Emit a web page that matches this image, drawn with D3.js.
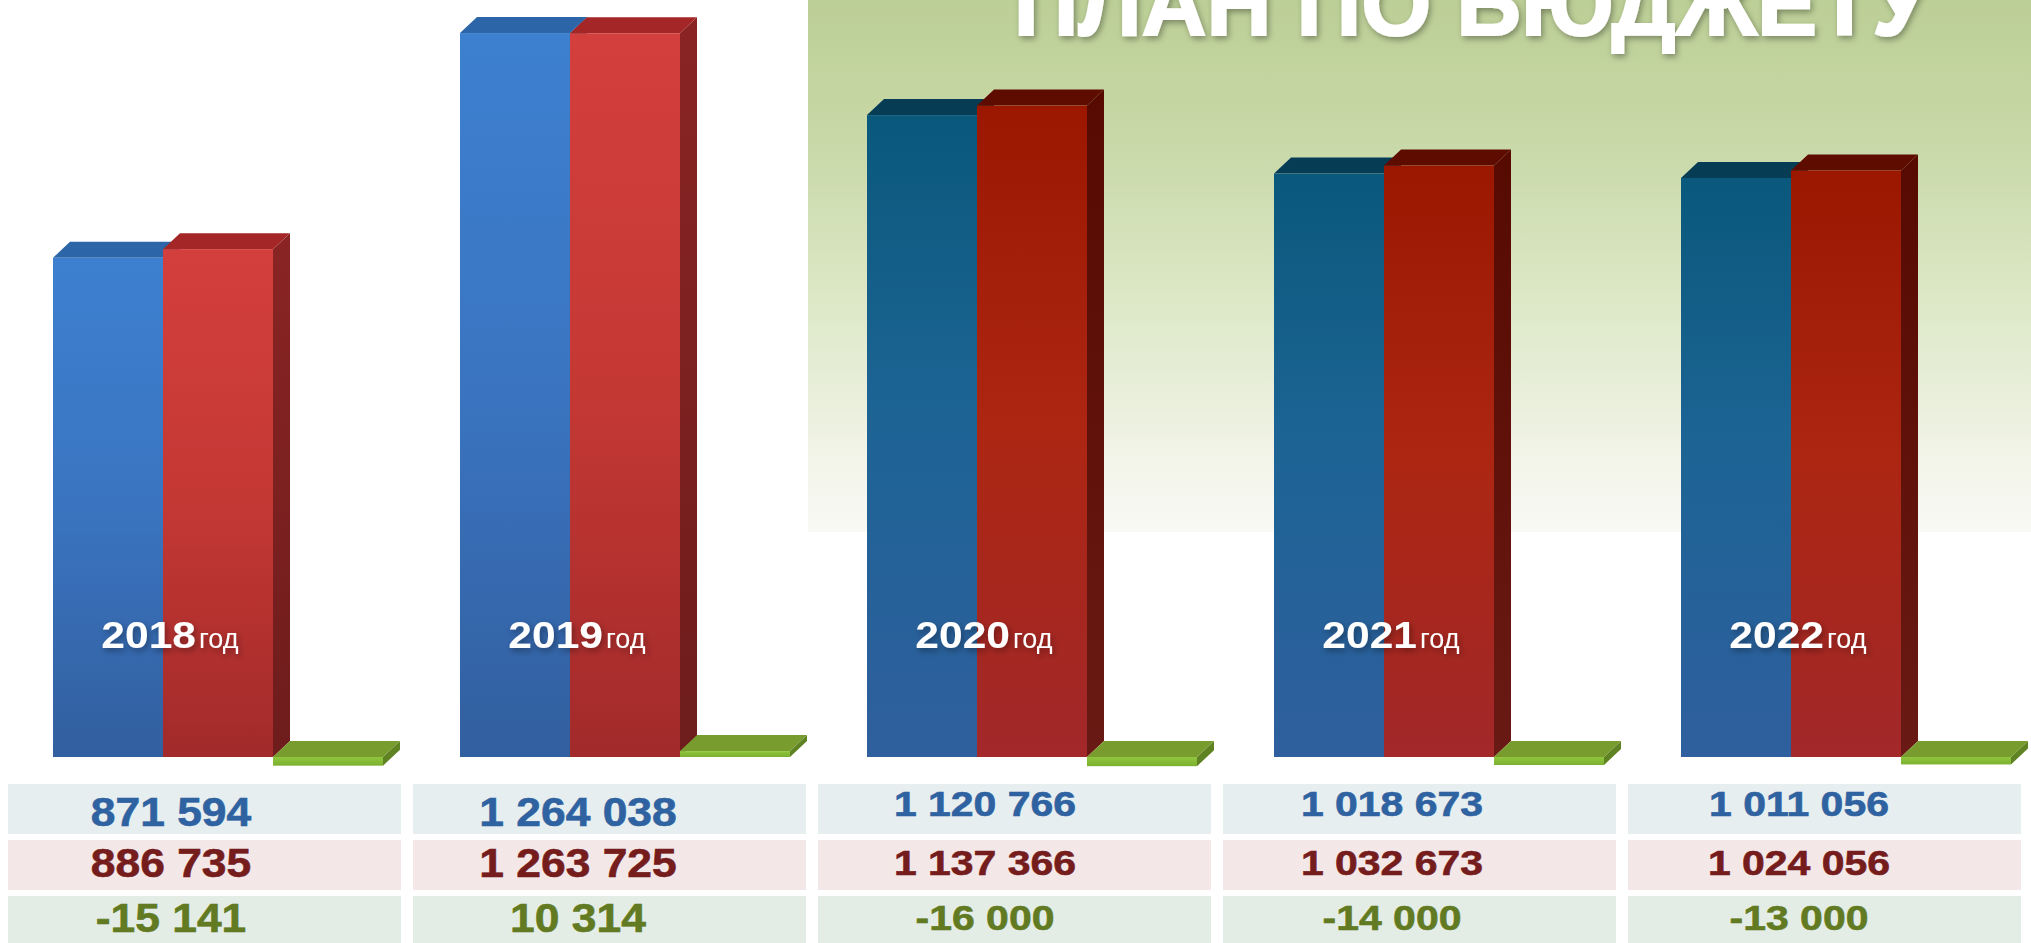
<!DOCTYPE html>
<html>
<head>
<meta charset="utf-8">
<script src="https://cdn.jsdelivr.net/npm/d3@7/dist/d3.min.js"></script>
<style>
    body { margin: 0; background: #ffffff; }
    svg { display: block; }
</style>
</head>
<body>
<div id="budget"></div>
<script>
// --------------------------------------------------
// data

var years = ["2018", "2019", "2020", "2021", "2022"];
var planValues = [871594, 1264038, 1120766, 1018673, 1011056];
var factValues = [886735, 1263725, 1137366, 1032673, 1024056];
var diffValues = [-15141, 10314, -16000, -14000, -13000];
var seriesKeys = ["plan", "fact", "diff"];
var titleText = "ПЛАН ПО БЮДЖЕТУ";
var yearSuffix = "год";

var width = 2031;
var height = 943;
var depthX = 17, depthY = 16;

var rows = years.map(function(yr, i) {
    return { year: yr, idx: i, plan: planValues[i], fact: factValues[i], diff: diffValues[i] };
});

// number format "1 264 038", plain hyphen for minus
function fmt(v) {
    var s = d3.format(",")(v);
    return s.replace(/,/g, " ").replace("\u2212", "-");
}

var svg = d3.select("#budget")
    .append("svg")
    .attr("width", width)
    .attr("height", height);

var defs = svg.append("defs");

function vGrad(id, stops) {
    var g = defs.append("linearGradient")
        .attr("id", id)
        .attr("x1", 0).attr("y1", 0).attr("x2", 0).attr("y2", 1);
    stops.forEach(function(s) {
        g.append("stop").attr("offset", s[0]).attr("stop-color", s[1]);
    });
}

// green panel behind the title
vGrad("panelGrad", [[0, "#bccf96"], [0.28, "#c9d9a9"], [0.56, "#dce8c6"], [0.75, "#eaefdc"], [0.88, "#f3f5ea"], [1, "#f9f9f5"]]);

// two colour sets: old slide (2018-2019) and new (2020-2022)
vGrad("blueA", [[0, "#3d80d0"], [0.5, "#3a74c0"], [1, "#325f9f"]]);
vGrad("redA", [[0, "#d33f3c"], [0.5, "#c43834"], [1, "#a22a2a"]]);
vGrad("sideA", [[0, "#8a2424"], [1, "#6e1c1c"]]);
vGrad("blueB", [[0, "#0a587c"], [0.45, "#1c6494"], [1, "#2f5f9e"]]);
vGrad("redB", [[0, "#9c1700"], [0.5, "#ac2612"], [1, "#a2282a"]]);
vGrad("sideB", [[0, "#560a00"], [1, "#6a1a14"]]);
vGrad("greenFront", [[0, "#8fc63e"], [1, "#7cb030"]]);

var shadow = defs.append("filter").attr("id", "shadow")
    .attr("x", "-10%").attr("y", "-30%").attr("width", "120%").attr("height", "160%");
shadow.append("feDropShadow")
    .attr("dx", 2).attr("dy", 3).attr("stdDeviation", 3)
    .attr("flood-color", "#000").attr("flood-opacity", 0.35);

svg.append("rect")
    .attr("x", 808).attr("y", 0)
    .attr("width", width - 808).attr("height", 532)
    .attr("fill", "url(#panelGrad)");

// title (cut off by the top edge like on the slide)
svg.append("text")
    .attr("x", 1928)
    .attr("y", 35)
    .attr("text-anchor", "end")
    .attr("font-family", "Liberation Sans, Arial, sans-serif")
    .attr("font-weight", "bold")
    .attr("font-size", "90px")
    .attr("fill", "#ffffff")
    .attr("stroke", "#ffffff")
    .attr("stroke-width", 2)
    .attr("filter", "url(#shadow)")
    .text(titleText);

// x, one band per year
var x = d3.scaleBand()
    .domain(years)
    .range([8, 2043])
    .paddingInner(0)
    .paddingOuter(0);

// bars inside a year band
var xs = d3.scaleBand()
    .domain(seriesKeys)
    .range([45, 375]);

// y, value to height
var y = d3.scaleLinear()
    .domain([0, 1320000])
    .range([757, 1]);

function faceFill(key, i, part) {
    var set = i < 2 ? "A" : "B";
    if (key === "diff") {
        if (part === "top") return "#789c2e";
        if (part === "side") return "#5f8222";
        return "url(#greenFront)";
    }
    if (key === "plan") {
        if (part === "top") return i < 2 ? "#2c65a8" : "#063d55";
        if (part === "side") return i < 2 ? "#24528a" : "#04324a";
        return "url(#blue" + set + ")";
    }
    if (part === "top") return i < 2 ? "#a52626" : "#5e0b00";
    if (part === "side") return "url(#side" + set + ")";
    return "url(#red" + set + ")";
}

var bars = [];
rows.forEach(function(d) {
    seriesKeys.forEach(function(k) {
        bars.push({ year: d.year, idx: d.idx, key: k, value: d[k] });
    });
});

var g = svg.append("g").attr("class", "bars");

var bar = g.selectAll("g.bar")
    .data(bars)
    .enter()
    .append("g")
    .attr("class", "bar");

function geo(d) {
    var x0 = x(d.year) + xs(d.key);
    var w = xs.bandwidth();
    var yTop = y(Math.max(d.value, 0));
    var yBot = y(Math.min(d.value, 0));
    return { x0: x0, w: w, yTop: yTop, yBot: yBot };
}

// side face
bar.append("path")
    .attr("d", function(d) {
        var p = geo(d);
        return "M" + (p.x0 + p.w) + "," + p.yTop +
            "L" + (p.x0 + p.w + depthX) + "," + (p.yTop - depthY) +
            "L" + (p.x0 + p.w + depthX) + "," + (p.yBot - depthY) +
            "L" + (p.x0 + p.w) + "," + p.yBot + "Z";
    })
    .attr("fill", function(d) { return faceFill(d.key, d.idx, "side"); });

// top face
bar.append("path")
    .attr("d", function(d) {
        var p = geo(d);
        return "M" + p.x0 + "," + p.yTop +
            "L" + (p.x0 + depthX) + "," + (p.yTop - depthY) +
            "L" + (p.x0 + p.w + depthX) + "," + (p.yTop - depthY) +
            "L" + (p.x0 + p.w) + "," + p.yTop + "Z";
    })
    .attr("fill", function(d) { return faceFill(d.key, d.idx, "top"); });

// front face
bar.append("rect")
    .attr("x", function(d) { return geo(d).x0; })
    .attr("y", function(d) { return geo(d).yTop; })
    .attr("width", xs.bandwidth())
    .attr("height", function(d) { var p = geo(d); return Math.max(p.yBot - p.yTop, 1); })
    .attr("fill", function(d) { return faceFill(d.key, d.idx, "front"); });

// year labels on the bars
var labelX = function(d) { return x(d.year) + 45 + 118; };

var lab = svg.append("g").attr("class", "year-labels")
    .selectAll("g")
    .data(rows)
    .enter()
    .append("g")
    .attr("transform", function(d) { return "translate(" + labelX(d) + ",648)"; })
    .attr("filter", "url(#shadow)");

lab.append("text")
    .attr("transform", "translate(25,0) scale(1.15,1)")
    .attr("text-anchor", "end")
    .attr("font-family", "Liberation Sans, Arial, sans-serif")
    .attr("font-weight", "bold")
    .attr("font-size", "37px")
    .attr("fill", "#ffffff")
    .text(function(d) { return d.year; });

lab.append("text")
    .attr("x", 28)
    .attr("font-family", "Liberation Sans, Arial, sans-serif")
    .attr("font-size", "27px")
    .attr("fill", "#ffffff")
    .text(yearSuffix);

// table under the chart
var col = d3.scaleBand()
    .domain(years)
    .range([8, 2021])
    .paddingInner(12 / 405);

var row = d3.scaleBand()
    .domain(seriesKeys)
    .range([784, 946])
    .paddingInner(0.107);

var cellFill = { plan: "#e6eef0", fact: "#f4e7e8", diff: "#e3ede6" };
var textFill = { plan: "#2f62a0", fact: "#751c1c", diff: "#627a22" };

var cells = [];
rows.forEach(function(d) {
    seriesKeys.forEach(function(k) {
        cells.push({ year: d.year, idx: d.idx, key: k, value: d[k] });
    });
});

var tbl = svg.append("g").attr("class", "table");

tbl.selectAll("rect")
    .data(cells)
    .enter()
    .append("rect")
    .attr("x", function(d) { return col(d.year); })
    .attr("y", function(d) { return row(d.key); })
    .attr("width", col.bandwidth())
    .attr("height", row.bandwidth())
    .attr("fill", function(d) { return cellFill[d.key]; });

// first two columns have a bit larger type, like the slide
var baseShift = { plan: 42, fact: 37, diff: 36 };

tbl.selectAll("g.val")
    .data(cells)
    .enter()
    .append("g")
    .attr("class", "val")
    .attr("transform", function(d) {
        var by = row(d.key) + baseShift[d.key];
        if (d.idx >= 2) by = by - (d.key === "plan" ? 10 : 2);
        var sc = d.idx < 2 ? 1.11 : 1.17;
        return "translate(" + labelX(d) + "," + by + ") scale(" + sc + ",1)";
    })
    .append("text")
    .attr("text-anchor", "middle")
    .attr("font-family", "Liberation Sans, Arial, sans-serif")
    .attr("font-weight", "bold")
    .attr("font-size", function(d) { return d.idx < 2 ? "40px" : "35px"; })
    .attr("fill", function(d) { return textFill[d.key]; })
    .attr("stroke", function(d) { return textFill[d.key]; })
    .attr("stroke-width", 0.6)
    .text(function(d) { return fmt(d.value); });
</script>
</body>
</html>
